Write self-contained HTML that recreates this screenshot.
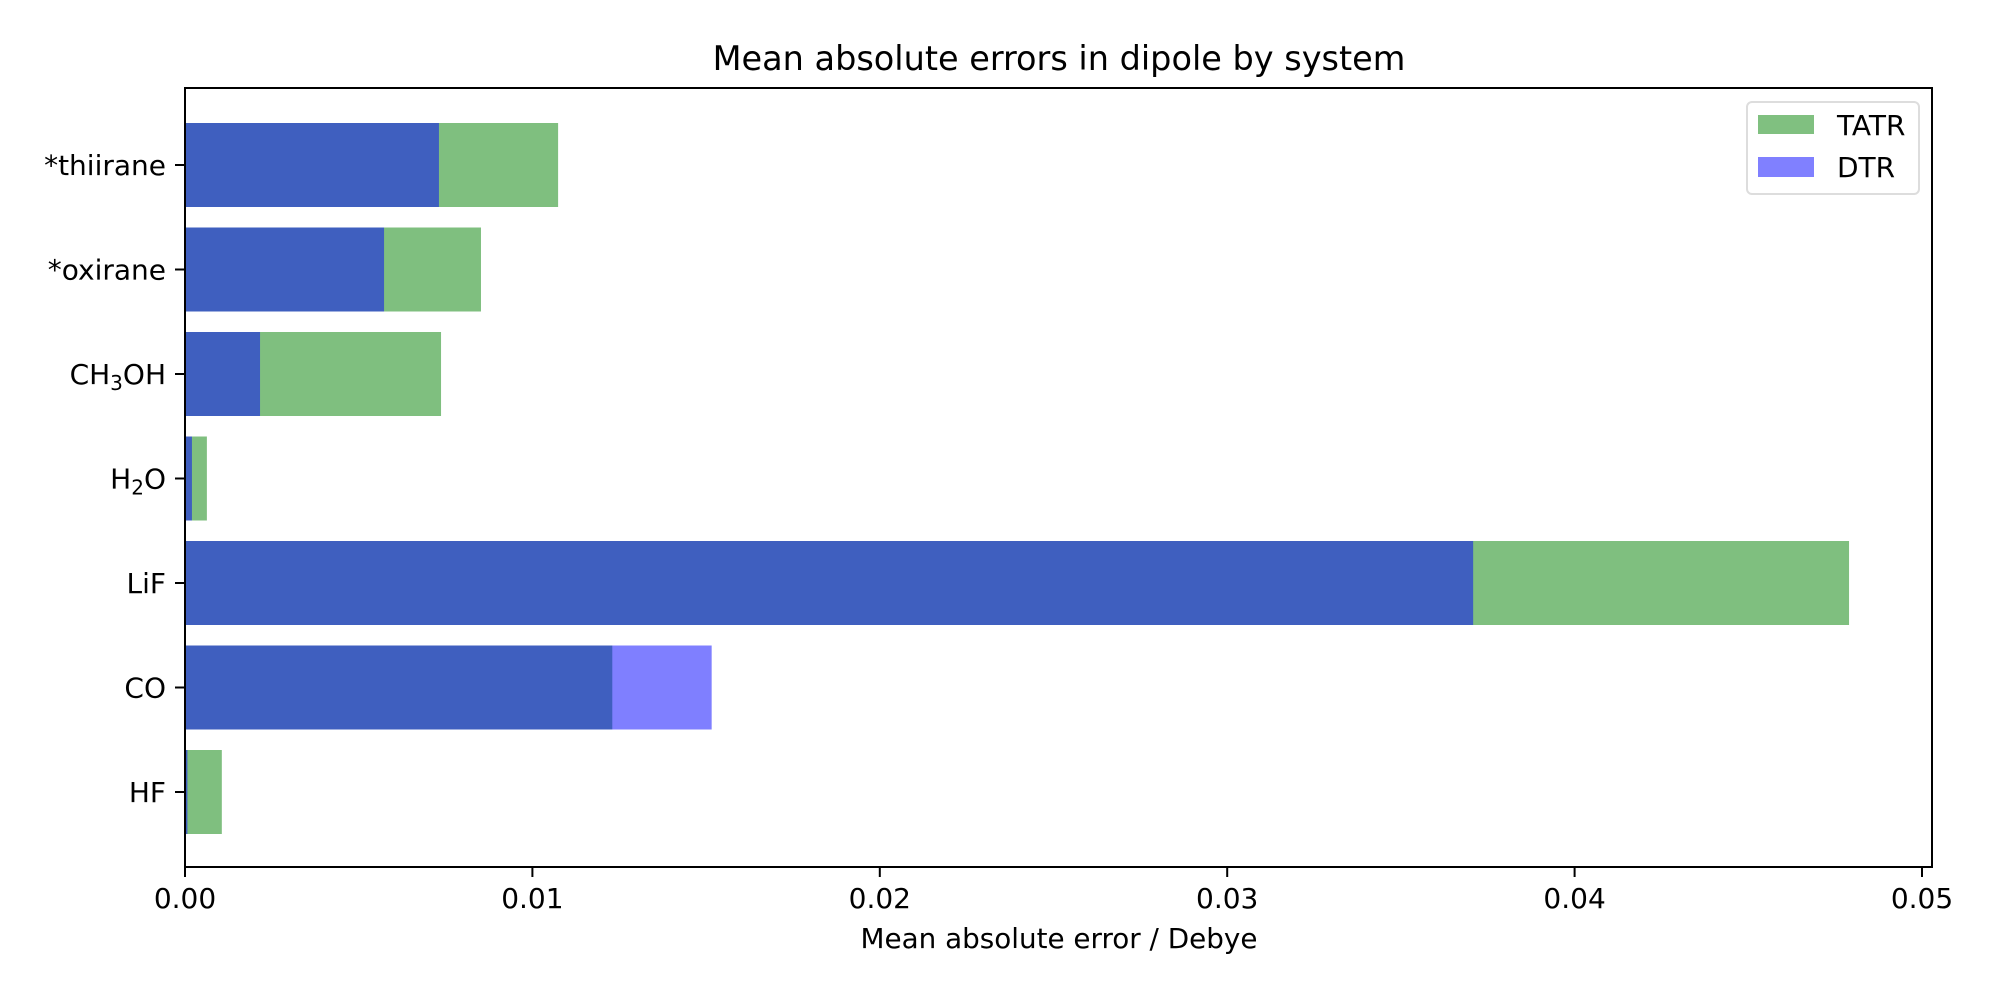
<!DOCTYPE html>
<html><head><meta charset="utf-8"><style>
body{margin:0;background:#fff}
svg text{font-family:"DejaVu Sans","Liberation Sans",sans-serif;fill:#000}
</style></head><body>
<svg id="chart" width="2000" height="1000" viewBox="0 0 2000 1000" xmlns="http://www.w3.org/2000/svg">
<rect width="2000" height="1000" fill="#fff"/>
<text x="1059" y="70" font-size="33.5" text-anchor="middle">Mean absolute errors in dipole by system</text>
<g id="bars"></g>
<rect x="185" y="88" width="1747" height="779" fill="none" stroke="#000" stroke-width="2"/>
<g id="yaxis"></g>
<g id="xaxis"></g>
<text x="1059" y="948" font-size="27.8" text-anchor="middle">Mean absolute error / Debye</text>
<g>
<rect x="1747" y="102" width="172" height="92" rx="5" fill="#fff" stroke="#ddd" stroke-width="2"/>
<rect x="1758" y="115" width="56" height="19" fill="#80c080"/>
<text x="1837" y="135" font-size="28">TATR</text>
<rect x="1758" y="157" width="56" height="20" fill="#8080ff"/>
<text x="1837" y="177" font-size="28">DTR</text>
</g>
</svg>
<script>
const categories = ["*thiirane","*oxirane","CH3OH","H2O","LiF","CO","HF"];
const labelsHtml = ["*thiirane","*oxirane","CH<tspan dy='6' font-size='20'>3</tspan><tspan dy='-6'>OH</tspan>","H<tspan dy='6' font-size='20'>2</tspan><tspan dy='-6'>O</tspan>","LiF","CO","HF"];
const tatrValues = [0.01074, 0.00852, 0.00737, 0.00063, 0.0479, 0.0123, 0.00106];
const dtrValues = [0.00731, 0.00573, 0.00216, 0.0002, 0.03708, 0.01516, 0.00007];
const xTicks = [0, 0.01, 0.02, 0.03, 0.04, 0.05];
const xTickLabels = ["0.00","0.01","0.02","0.03","0.04","0.05"];

const NS = "http://www.w3.org/2000/svg";
const x = v => 185 + v * 34740;
const yc = i => 165 + i * 104.5;
const bh = 84;
const bars = document.getElementById('bars');
function mk(tag, attrs, parent){const e=document.createElementNS(NS,tag);for(const k in attrs)e.setAttribute(k,attrs[k]);parent.appendChild(e);return e;}
categories.forEach((c,i)=>{
  const g = mk('rect',{x:x(0),y:yc(i)-bh/2,width:x(tatrValues[i])-x(0),height:bh,fill:'#008000','fill-opacity':0.5},bars);
  
  
  const b = mk('rect',{x:x(0),y:yc(i)-bh/2,width:x(dtrValues[i])-x(0),height:bh,fill:'#0000ff','fill-opacity':0.5},bars);
  
  
});
const ya = document.getElementById('yaxis');
categories.forEach((c,i)=>{
  const t = mk('line',{x1:175,x2:185,y1:yc(i),y2:yc(i),stroke:'#000','stroke-width':2},ya);
  
  
  const l = mk('text',{x:166,y:yc(i)+10,'font-size':28,'text-anchor':'end'},ya);
  l.innerHTML = labelsHtml[i];
  
  
});
const xa = document.getElementById('xaxis');
xTicks.forEach((v,i)=>{
  const t = mk('line',{x1:x(v),x2:x(v),y1:867,y2:877,stroke:'#000','stroke-width':2},xa);
  
  
  const l = mk('text',{x:x(v),y:908,'font-size':28,'text-anchor':'middle'},xa);
  l.textContent = xTickLabels[i];
  
  
});
</script>
</body></html>
